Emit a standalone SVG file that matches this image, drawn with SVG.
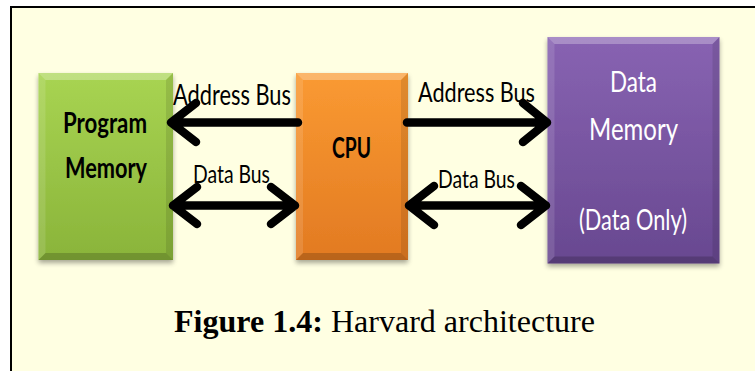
<svg xmlns="http://www.w3.org/2000/svg" width="755" height="371" viewBox="0 0 755 371">
  <defs>
    <linearGradient id="gGreen" x1="0" y1="0" x2="0" y2="1">
      <stop offset="0" stop-color="#A8D452"/>
      <stop offset="1" stop-color="#8AB43A"/>
    </linearGradient>
    <linearGradient id="gOrange" x1="0" y1="0" x2="0" y2="1">
      <stop offset="0" stop-color="#FA9A32"/>
      <stop offset="1" stop-color="#E27A22"/>
    </linearGradient>
    <linearGradient id="gPurple" x1="0" y1="0" x2="0" y2="1">
      <stop offset="0" stop-color="#8863B2"/>
      <stop offset="1" stop-color="#684890"/>
    </linearGradient>
    <filter id="shadow" x="-20%" y="-20%" width="140%" height="140%">
      <feGaussianBlur in="SourceAlpha" stdDeviation="2.5"/>
      <feOffset dx="0" dy="3" result="b"/>
      <feComponentTransfer><feFuncA type="linear" slope="0.35"/></feComponentTransfer>
      <feMerge><feMergeNode/><feMergeNode in="SourceGraphic"/></feMerge>
    </filter>
  </defs>
  <style>
    .bevel-top { fill: #FFFFFF; opacity: 0.28; }
    .bevel-left { fill: #FFFFFF; opacity: 0.12; }
    .bevel-right { fill: #000000; opacity: 0.10; }
    .bevel-bottom { fill: #000000; opacity: 0.18; }
    .lbl { font-family: "Lato", "Open Sans", "Liberation Sans", sans-serif; fill: #000000; }
    .bold { font-weight: bold; }
    .white { fill: #FFFFFF; }
    .bus { fill: none; stroke: #000000; stroke-width: 8.5; stroke-linecap: round; stroke-linejoin: round; }
    .cap { font-family: "Liberation Serif", "Times New Roman", serif; font-size: 31px; fill: #000000; }
  </style>

  <!-- page and frame -->
  <rect x="0" y="0" width="755" height="371" fill="#FFFFFF"/>
  <rect x="11" y="7" width="744" height="364" fill="#FFFFE2"/>
  <path d="M 11 371 V 7 H 755" fill="none" stroke="#000000" stroke-width="2"/>

  <!-- Program Memory -->
  <g id="program-memory">
    <g filter="url(#shadow)">
      <rect x="38.5" y="73" width="134.5" height="187" fill="url(#gGreen)"/>
    </g>
    <polygon class="bevel-top" points="38.5,73 173,73 166,80 45.5,80"/>
    <polygon class="bevel-left" points="38.5,73 45.5,80 45.5,253 38.5,260"/>
    <polygon class="bevel-right" points="173,73 166,80 166,253 173,260"/>
    <polygon class="bevel-bottom" points="38.5,260 45.5,253 166,253 173,260"/>
    <text class="lbl bold" x="63" y="133" font-size="29" textLength="84" lengthAdjust="spacingAndGlyphs">Program</text>
    <text class="lbl bold" x="65" y="178" font-size="29" textLength="82" lengthAdjust="spacingAndGlyphs">Memory</text>
  </g>

  <!-- CPU -->
  <g id="cpu">
    <g filter="url(#shadow)">
      <rect x="296" y="73" width="112" height="187" fill="url(#gOrange)"/>
    </g>
    <polygon class="bevel-top" points="296,73 408,73 401,80 303,80"/>
    <polygon class="bevel-left" points="296,73 303,80 303,253 296,260"/>
    <polygon class="bevel-right" points="408,73 401,80 401,253 408,260"/>
    <polygon class="bevel-bottom" points="296,260 303,253 401,253 408,260"/>
    <text class="lbl bold" x="332" y="158" font-size="29" textLength="39" lengthAdjust="spacingAndGlyphs">CPU</text>
  </g>

  <!-- Data Memory -->
  <g id="data-memory">
    <g filter="url(#shadow)">
      <rect x="547.5" y="37" width="172" height="226.5" fill="url(#gPurple)"/>
    </g>
    <polygon class="bevel-top" points="547.5,37 719.5,37 712.5,44 554.5,44"/>
    <polygon class="bevel-left" points="547.5,37 554.5,44 554.5,256.5 547.5,263.5"/>
    <polygon class="bevel-right" points="719.5,37 712.5,44 712.5,256.5 719.5,263.5"/>
    <polygon class="bevel-bottom" points="547.5,263.5 554.5,256.5 712.5,256.5 719.5,263.5"/>
    <text class="lbl white" x="610" y="92" font-size="28" textLength="47" lengthAdjust="spacingAndGlyphs">Data</text>
    <text class="lbl white" x="589" y="140" font-size="30" textLength="89" lengthAdjust="spacingAndGlyphs">Memory</text>
    <text class="lbl white" x="579" y="230" font-size="28" textLength="108" lengthAdjust="spacingAndGlyphs">(Data Only)</text>
  </g>

  <!-- bus connectors -->
  <g id="connectors">
    <!-- CPU to program memory: address bus -->
    <path class="bus" d="M 298 122.5 H 172 M 196 103 L 171 122.5 L 196 142"/>
    <!-- program memory / CPU: data bus -->
    <path class="bus" d="M 173 205.5 H 295 M 197 187 L 173 205.5 L 197 224 M 271 187 L 295 205.5 L 271 224"/>
    <!-- CPU to data memory: address bus -->
    <path class="bus" d="M 407 122.5 H 547 M 523 103 L 547 122.5 L 523 142"/>
    <!-- CPU / data memory: data bus -->
    <path class="bus" d="M 409 205.5 H 546 M 434 186 L 409 205.5 L 434 225 M 521 186 L 546 205.5 L 521 225"/>
    <text class="lbl" x="173" y="105" font-size="28" textLength="118" lengthAdjust="spacingAndGlyphs">Address Bus</text>
    <text class="lbl" x="193" y="183" font-size="25" textLength="77" lengthAdjust="spacingAndGlyphs">Data Bus</text>
    <text class="lbl" x="418" y="102" font-size="27" textLength="117" lengthAdjust="spacingAndGlyphs">Address Bus</text>
    <text class="lbl" x="438" y="188" font-size="25" textLength="77" lengthAdjust="spacingAndGlyphs">Data Bus</text>
  </g>

  <!-- caption -->
  <text class="cap" x="174" y="332" textLength="421" lengthAdjust="spacingAndGlyphs"><tspan font-weight="bold">Figure 1.4:</tspan> Harvard architecture</text>
</svg>
